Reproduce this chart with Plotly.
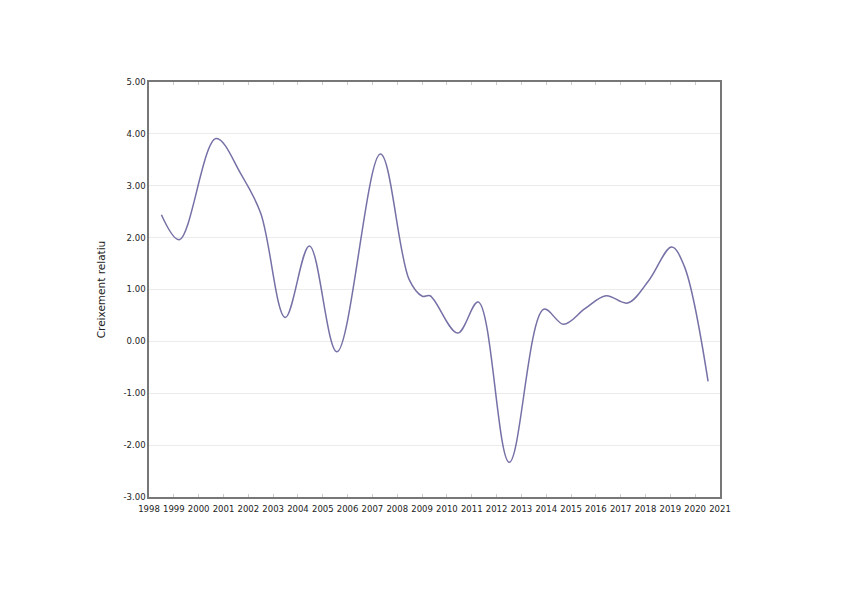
import plotly.graph_objects as go

# decimal year positions and values
years = [1998.50, 1999.22, 2000.70, 2001.71, 2002.50, 2003.49, 2004.46,
         2005.57, 2007.32, 2008.48, 2009.01, 2009.32, 2010.43, 2011.26,
         2012.51, 2013.90, 2014.70, 2015.56, 2016.41, 2017.28, 2018.14,
         2019.05, 2019.56, 2020.52]
growth = [2.44, 1.96, 3.91, 3.22, 2.47, 0.46, 1.84,
          -0.20, 3.61, 1.19, 0.87, 0.88, 0.16, 0.76,
          -2.33, 0.62, 0.33, 0.63, 0.88, 0.74, 1.18,
          1.82, 1.45, -0.77]

year_ticks = list(range(1998, 2022))
y_ticks = [-3, -2, -1, 0, 1, 2, 3, 4, 5]
y_labels = ['%.2f' % v for v in y_ticks]

fig = go.Figure()
fig.add_trace(go.Scatter(x=years, y=growth,
                         mode='lines',
                         line=dict(color='#7571a6', width=1.5, shape='spline', smoothing=1.0),
                         showlegend=False,
                         hoverinfo='skip'))

# page body has an 8px margin, so the figure is a bit smaller than the window
fig.update_layout(
    width=832, height=583,
    margin=dict(l=141, r=120, t=74, b=94),
    paper_bgcolor='white',
    plot_bgcolor='white',
    font=dict(family='DejaVu Sans', size=8.5, color='#222222'),
)
fig.update_xaxes(range=[1998, 2021],
                 tickvals=year_ticks,
                 ticktext=[str(y) for y in year_ticks],
                 tickangle=0, automargin=False,
                 ticklabelstandoff=3,
                 showgrid=False,
                 ticks='inside', ticklen=3, tickcolor='#cccccc',
                 showline=True, linecolor='#777777', linewidth=1.5, mirror='allticks',
                 tickfont=dict(size=8.5), zeroline=False)
fig.update_yaxes(range=[-3, 5],
                 tickvals=y_ticks,
                 ticktext=y_labels,
                 automargin=False,
                 showgrid=True, gridcolor='#ebebeb', gridwidth=1,
                 showline=True, linecolor='#777777', linewidth=1.5, mirror=True,
                 zeroline=False,
                 title=dict(text='Creixement relatiu', font=dict(size=10.5), standoff=16),
                 tickfont=dict(size=8.5))

fig.write_html("out.html")
